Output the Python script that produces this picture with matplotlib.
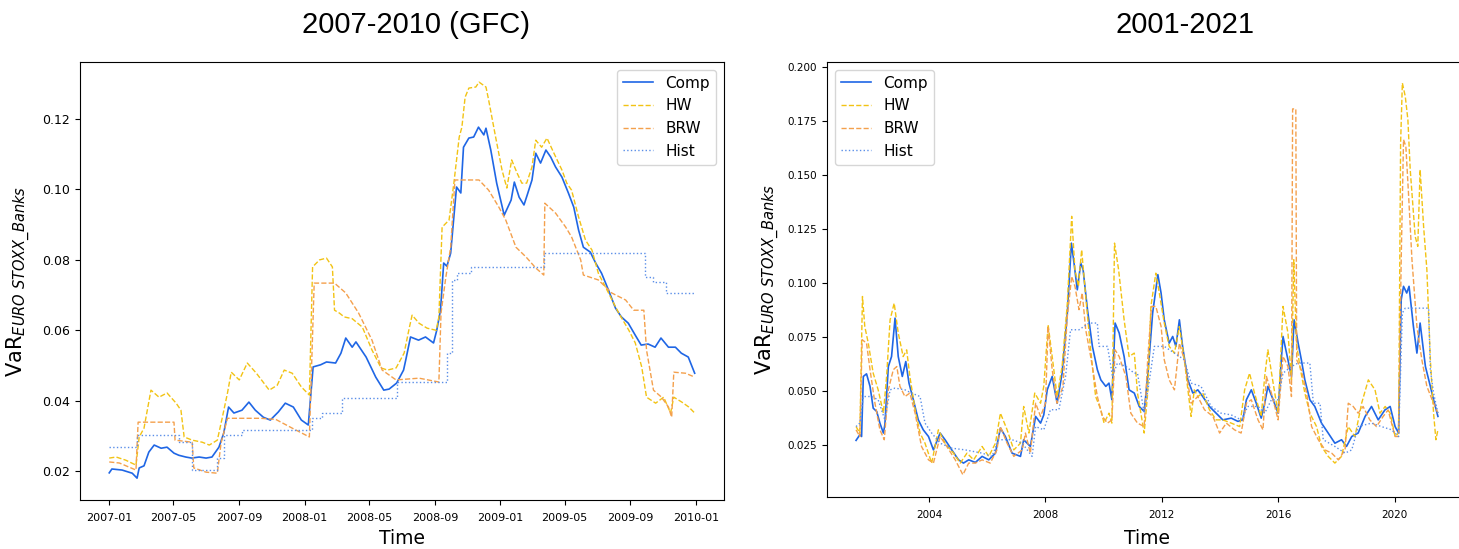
import numpy as np
import pandas as pd
import matplotlib
matplotlib.use("Agg")
import matplotlib.pyplot as plt
import matplotlib.dates as mdates

# ---- 2007-2010 (GFC) panel -------------------------------------------------
comp_gfc_dates = ["2007-01-01", "2007-01-06", "2007-01-25", "2007-02-13", "2007-02-22", "2007-02-26",
                  "2007-03-07", "2007-03-16", "2007-03-26", "2007-04-08", "2007-04-19", "2007-05-02",
                  "2007-05-11", "2007-05-24", "2007-06-04", "2007-06-18", "2007-07-01", "2007-07-12",
                  "2007-07-25", "2007-08-03", "2007-08-12", "2007-08-22", "2007-09-06", "2007-09-19",
                  "2007-10-01", "2007-10-16", "2007-10-29", "2007-11-13", "2007-11-26", "2007-12-11",
                  "2007-12-26", "2008-01-08", "2008-01-17", "2008-01-31", "2008-02-11", "2008-02-28",
                  "2008-03-09", "2008-03-18", "2008-03-30", "2008-04-06", "2008-04-25", "2008-05-13",
                  "2008-05-28", "2008-06-07", "2008-06-21", "2008-07-04", "2008-07-08", "2008-07-17",
                  "2008-08-01", "2008-08-14", "2008-08-29", "2008-09-04", "2008-09-11", "2008-09-17",
                  "2008-09-23", "2008-09-30", "2008-10-06", "2008-10-11", "2008-10-19", "2008-10-24",
                  "2008-11-03", "2008-11-12", "2008-11-21", "2008-12-01", "2008-12-05", "2008-12-14",
                  "2008-12-25", "2009-01-08", "2009-01-21", "2009-01-27", "2009-02-05", "2009-02-14",
                  "2009-02-20", "2009-03-01", "2009-03-08", "2009-03-17", "2009-03-27", "2009-04-05",
                  "2009-04-14", "2009-04-26", "2009-05-08", "2009-05-18", "2009-05-27", "2009-06-05",
                  "2009-06-18", "2009-06-28", "2009-07-09", "2009-07-22", "2009-08-04", "2009-08-15",
                  "2009-08-28", "2009-09-10", "2009-09-21", "2009-10-04", "2009-10-17", "2009-10-28",
                  "2009-11-11", "2009-11-24", "2009-12-05", "2009-12-18", "2009-12-30"]
comp_gfc = [0.0195, 0.0206, 0.0203, 0.0194, 0.0180, 0.0209, 0.0215, 0.0254, 0.0274, 0.0265,
            0.0268, 0.0251, 0.0245, 0.0240, 0.0237, 0.0240, 0.0237, 0.0240, 0.0268, 0.0308,
            0.0382, 0.0365, 0.0373, 0.0396, 0.0373, 0.0353, 0.0345, 0.0368, 0.0393, 0.0382,
            0.0345, 0.0331, 0.0496, 0.0502, 0.0510, 0.0507, 0.0535, 0.0578, 0.0552, 0.0567,
            0.0524, 0.0467, 0.0430, 0.0433, 0.0450, 0.0487, 0.0515, 0.0581, 0.0572, 0.0581,
            0.0564, 0.0600, 0.0657, 0.0791, 0.0782, 0.0819, 0.0922, 0.1007, 0.0990, 0.1120,
            0.1146, 0.1149, 0.1177, 0.1155, 0.1174, 0.1112, 0.1018, 0.0927, 0.0970, 0.1021,
            0.0978, 0.0956, 0.0984, 0.1027, 0.1103, 0.1075, 0.1112, 0.1092, 0.1064, 0.1035,
            0.0990, 0.0950, 0.0885, 0.0836, 0.0822, 0.0791, 0.0762, 0.0714, 0.0663, 0.0638,
            0.0620, 0.0586, 0.0558, 0.0561, 0.0552, 0.0578, 0.0552, 0.0552, 0.0535, 0.0524,
            0.0478]

hw_gfc_dates = ["2007-01-01", "2007-01-14", "2007-02-01", "2007-02-20", "2007-02-26", "2007-03-07",
                "2007-03-20", "2007-04-04", "2007-04-19", "2007-05-06", "2007-05-15", "2007-05-21",
                "2007-06-05", "2007-06-24", "2007-07-07", "2007-07-22", "2007-07-31", "2007-08-10",
                "2007-08-17", "2007-09-01", "2007-09-16", "2007-10-03", "2007-10-27", "2007-11-11",
                "2007-11-24", "2007-12-09", "2007-12-26", "2008-01-10", "2008-01-16", "2008-01-29",
                "2008-02-11", "2008-02-22", "2008-02-26", "2008-03-06", "2008-03-15", "2008-03-30",
                "2008-04-18", "2008-05-06", "2008-05-23", "2008-06-04", "2008-06-20", "2008-07-05",
                "2008-07-15", "2008-07-20", "2008-08-02", "2008-08-17", "2008-09-03", "2008-09-08",
                "2008-09-14", "2008-09-27", "2008-10-06", "2008-10-16", "2008-10-21", "2008-10-27",
                "2008-11-03", "2008-11-16", "2008-11-22", "2008-12-05", "2008-12-10", "2008-12-23",
                "2009-01-04", "2009-01-13", "2009-01-22", "2009-02-01", "2009-02-10", "2009-02-19",
                "2009-03-01", "2009-03-08", "2009-03-19", "2009-03-29", "2009-04-11", "2009-04-26",
                "2009-05-05", "2009-05-14", "2009-05-27", "2009-06-09", "2009-06-21", "2009-07-03",
                "2009-07-22", "2009-08-10", "2009-08-29", "2009-09-10", "2009-09-22", "2009-10-01",
                "2009-10-18", "2009-11-02", "2009-11-15", "2009-11-21", "2009-12-06", "2009-12-19",
                "2009-12-30"]
hw_gfc = [0.0237, 0.0240, 0.0231, 0.0217, 0.0297, 0.0322, 0.0430, 0.0410, 0.0422, 0.0393,
          0.0373, 0.0297, 0.0288, 0.0282, 0.0274, 0.0288, 0.0350, 0.0422, 0.0481, 0.0459,
          0.0507, 0.0478, 0.0430, 0.0444, 0.0487, 0.0478, 0.0439, 0.0416, 0.0780, 0.0800,
          0.0805, 0.0780, 0.0657, 0.0649, 0.0638, 0.0633, 0.0609, 0.0544, 0.0493, 0.0487,
          0.0493, 0.0535, 0.0609, 0.0643, 0.0620, 0.0606, 0.0600, 0.0638, 0.0893, 0.0913,
          0.1018, 0.1149, 0.1177, 0.1262, 0.1288, 0.1291, 0.1305, 0.1291, 0.1254, 0.1149,
          0.1055, 0.1004, 0.1084, 0.1047, 0.1018, 0.1018, 0.1064, 0.1140, 0.1120, 0.1146,
          0.1103, 0.1055, 0.1018, 0.0998, 0.0922, 0.0856, 0.0828, 0.0762, 0.0706, 0.0649,
          0.0600, 0.0564, 0.0496, 0.0410, 0.0393, 0.0410, 0.0365, 0.0410, 0.0396, 0.0382,
          0.0365]

brw_gfc_dates = ["2007-01-01", "2007-01-20", "2007-02-20", "2007-02-24", "2007-05-02", "2007-05-04",
                 "2007-06-05", "2007-06-08", "2007-07-01", "2007-07-22", "2007-07-29", "2007-08-10",
                 "2007-10-11", "2007-11-08", "2007-12-09", "2008-01-10", "2008-01-19", "2008-02-26",
                 "2008-03-18", "2008-04-11", "2008-05-06", "2008-05-25", "2008-06-20", "2008-08-02",
                 "2008-09-08", "2008-09-12", "2008-09-21", "2008-09-30", "2008-10-08", "2008-11-22",
                 "2008-12-10", "2008-12-29", "2009-01-11", "2009-01-30", "2009-02-18", "2009-03-08",
                 "2009-03-23", "2009-03-25", "2009-04-14", "2009-05-03", "2009-05-14", "2009-05-31",
                 "2009-06-05", "2009-07-03", "2009-07-28", "2009-08-23", "2009-09-07", "2009-09-26",
                 "2009-10-01", "2009-10-14", "2009-10-29", "2009-11-11", "2009-11-17", "2009-11-21",
                 "2009-12-13", "2009-12-30"]
brw_gfc = [0.0226, 0.0223, 0.0203, 0.0339, 0.0339, 0.0288, 0.0282, 0.0209, 0.0197, 0.0194,
           0.0280, 0.0350, 0.0350, 0.0347, 0.0322, 0.0297, 0.0734, 0.0734, 0.0706, 0.0649,
           0.0572, 0.0487, 0.0459, 0.0464, 0.0453, 0.0649, 0.0751, 0.0836, 0.1027, 0.1027,
           0.0998, 0.0950, 0.0913, 0.0836, 0.0808, 0.0777, 0.0757, 0.0961, 0.0933, 0.0893,
           0.0865, 0.0800, 0.0757, 0.0743, 0.0706, 0.0686, 0.0657, 0.0657, 0.0544, 0.0430,
           0.0410, 0.0382, 0.0353, 0.0481, 0.0478, 0.0467]

hist_gfc_dates = ["2007-01-01", "2007-02-22", "2007-05-11", "2007-06-05", "2007-07-22", "2007-08-03",
                  "2007-09-06", "2008-01-14", "2008-02-03", "2008-03-11", "2008-06-21", "2008-09-23",
                  "2008-10-02", "2008-10-11", "2008-11-07", "2009-03-23", "2009-09-29", "2009-10-14",
                  "2009-11-06", "2009-12-30"]
hist_gfc = [0.0268, 0.0302, 0.0282, 0.0203, 0.0237, 0.0302, 0.0316, 0.0350, 0.0365, 0.0407,
            0.0452, 0.0535, 0.0743, 0.0762, 0.0780, 0.0819, 0.0751, 0.0737, 0.0706, 0.0706]

# ---- 2001-2021 panel (decimal years) ---------------------------------------
comp_full_years = [2001.49, 2001.62, 2001.68, 2001.74, 2001.85, 2001.97, 2002.08, 2002.20, 2002.31, 2002.43,
                   2002.48, 2002.60, 2002.71, 2002.83, 2002.94, 2003.08, 2003.20, 2003.31, 2003.46, 2003.63,
                   2003.80, 2003.98, 2004.15, 2004.38, 2004.55, 2004.78, 2005.01, 2005.18, 2005.36, 2005.59,
                   2005.82, 2006.05, 2006.28, 2006.45, 2006.62, 2006.85, 2007.14, 2007.25, 2007.48, 2007.66,
                   2007.83, 2007.94, 2008.06, 2008.23, 2008.40, 2008.57, 2008.75, 2008.89, 2008.98, 2009.09,
                   2009.21, 2009.29, 2009.44, 2009.61, 2009.78, 2009.90, 2010.07, 2010.18, 2010.28, 2010.39,
                   2010.53, 2010.70, 2010.87, 2011.05, 2011.22, 2011.39, 2011.51, 2011.68, 2011.86, 2011.97,
                   2012.08, 2012.25, 2012.37, 2012.48, 2012.60, 2012.71, 2012.89, 2013.06, 2013.23, 2013.40,
                   2013.63, 2013.86, 2014.09, 2014.38, 2014.61, 2014.78, 2014.90, 2015.07, 2015.24, 2015.41,
                   2015.53, 2015.64, 2015.82, 2015.99, 2016.10, 2016.16, 2016.33, 2016.45, 2016.54, 2016.68,
                   2016.79, 2016.91, 2017.08, 2017.25, 2017.48, 2017.71, 2017.94, 2018.17, 2018.34, 2018.52,
                   2018.74, 2018.98, 2019.20, 2019.43, 2019.66, 2019.84, 2020.01, 2020.13, 2020.22, 2020.30,
                   2020.41, 2020.49, 2020.64, 2020.76, 2020.87, 2021.05, 2021.22, 2021.33, 2021.48]
comp_full = [0.0272, 0.0298, 0.0290, 0.0568, 0.0580, 0.0522, 0.0421, 0.0406, 0.0352, 0.0306,
             0.0344, 0.0614, 0.0660, 0.0838, 0.0660, 0.0568, 0.0637, 0.0537, 0.0460, 0.0367,
             0.0321, 0.0290, 0.0228, 0.0306, 0.0275, 0.0228, 0.0182, 0.0167, 0.0182, 0.0170,
             0.0198, 0.0182, 0.0213, 0.0329, 0.0290, 0.0213, 0.0198, 0.0275, 0.0244, 0.0383,
             0.0352, 0.0390, 0.0506, 0.0568, 0.0444, 0.0583, 0.0861, 0.1185, 0.1093, 0.0969,
             0.1093, 0.1062, 0.0877, 0.0707, 0.0599, 0.0552, 0.0522, 0.0537, 0.0460, 0.0815,
             0.0769, 0.0660, 0.0506, 0.0491, 0.0429, 0.0406, 0.0568, 0.0861, 0.1039, 0.0954,
             0.0830, 0.0722, 0.0753, 0.0707, 0.0830, 0.0707, 0.0552, 0.0491, 0.0506, 0.0475,
             0.0429, 0.0398, 0.0367, 0.0375, 0.0360, 0.0367, 0.0460, 0.0506, 0.0444, 0.0375,
             0.0444, 0.0522, 0.0460, 0.0398, 0.0645, 0.0753, 0.0645, 0.0568, 0.0830, 0.0722,
             0.0645, 0.0552, 0.0460, 0.0429, 0.0352, 0.0306, 0.0259, 0.0275, 0.0244, 0.0290,
             0.0306, 0.0383, 0.0429, 0.0367, 0.0413, 0.0429, 0.0336, 0.0306, 0.0923, 0.0985,
             0.0954, 0.0985, 0.0799, 0.0676, 0.0815, 0.0614, 0.0522, 0.0460, 0.0383]

hw_full_years = [2001.49, 2001.62, 2001.71, 2001.79, 2001.91, 2002.08, 2002.25, 2002.43, 2002.54, 2002.66,
                 2002.80, 2002.94, 2003.11, 2003.23, 2003.34, 2003.52, 2003.69, 2003.86, 2004.09, 2004.32,
                 2004.55, 2004.84, 2005.07, 2005.30, 2005.53, 2005.82, 2006.05, 2006.28, 2006.45, 2006.68,
                 2006.91, 2007.14, 2007.25, 2007.43, 2007.63, 2007.83, 2007.94, 2008.09, 2008.23, 2008.40,
                 2008.57, 2008.75, 2008.90, 2009.01, 2009.13, 2009.24, 2009.38, 2009.55, 2009.72, 2009.90,
                 2010.01, 2010.18, 2010.28, 2010.37, 2010.51, 2010.70, 2010.87, 2011.05, 2011.16, 2011.39,
                 2011.51, 2011.62, 2011.79, 2011.91, 2012.08, 2012.25, 2012.43, 2012.60, 2012.77, 2013.00,
                 2013.11, 2013.23, 2013.40, 2013.63, 2013.86, 2014.09, 2014.38, 2014.67, 2014.84, 2015.01,
                 2015.18, 2015.41, 2015.53, 2015.64, 2015.82, 2015.99, 2016.16, 2016.33, 2016.45, 2016.53,
                 2016.62, 2016.74, 2016.91, 2017.08, 2017.31, 2017.48, 2017.71, 2017.94, 2018.17, 2018.40,
                 2018.63, 2018.86, 2019.09, 2019.32, 2019.49, 2019.67, 2019.84, 2020.01, 2020.13, 2020.20,
                 2020.26, 2020.36, 2020.45, 2020.53, 2020.70, 2020.79, 2020.87, 2020.99, 2021.10, 2021.22,
                 2021.33, 2021.41, 2021.48]
hw_full = [0.0336, 0.0306, 0.0938, 0.0799, 0.0722, 0.0583, 0.0506, 0.0398, 0.0568, 0.0830,
           0.0907, 0.0769, 0.0660, 0.0691, 0.0568, 0.0414, 0.0306, 0.0259, 0.0167, 0.0321,
           0.0259, 0.0213, 0.0167, 0.0213, 0.0182, 0.0244, 0.0198, 0.0259, 0.0398, 0.0321,
           0.0228, 0.0259, 0.0429, 0.0306, 0.0491, 0.0444, 0.0522, 0.0807, 0.0660, 0.0475,
           0.0614, 0.0907, 0.1309, 0.1062, 0.0985, 0.1154, 0.0938, 0.0691, 0.0475, 0.0414,
           0.0352, 0.0398, 0.0352, 0.1185, 0.1062, 0.0830, 0.0660, 0.0676, 0.0491, 0.0306,
           0.0491, 0.0892, 0.1046, 0.0954, 0.0815, 0.0707, 0.0676, 0.0799, 0.0645, 0.0383,
           0.0506, 0.0475, 0.0491, 0.0414, 0.0367, 0.0367, 0.0352, 0.0336, 0.0506, 0.0583,
           0.0491, 0.0383, 0.0568, 0.0691, 0.0537, 0.0398, 0.0892, 0.0769, 0.0552, 0.1108,
           0.0722, 0.0614, 0.0491, 0.0398, 0.0336, 0.0244, 0.0198, 0.0167, 0.0198, 0.0336,
           0.0290, 0.0444, 0.0552, 0.0506, 0.0398, 0.0429, 0.0398, 0.0290, 0.0306, 0.1648,
           0.1926, 0.1864, 0.1756, 0.1525, 0.1216, 0.1170, 0.1525, 0.1262, 0.1062, 0.0645,
           0.0398, 0.0275, 0.0321]

brw_full_years = [2001.49, 2001.62, 2001.70, 2001.85, 2001.97, 2002.14, 2002.31, 2002.46, 2002.60, 2002.77,
                  2002.89, 2003.00, 2003.17, 2003.34, 2003.52, 2003.74, 2003.98, 2004.15, 2004.38, 2004.61,
                  2004.90, 2005.16, 2005.36, 2005.59, 2005.82, 2006.10, 2006.33, 2006.45, 2006.68, 2006.91,
                  2007.20, 2007.31, 2007.48, 2007.66, 2007.83, 2008.00, 2008.09, 2008.23, 2008.40, 2008.60,
                  2008.75, 2008.90, 2009.01, 2009.15, 2009.26, 2009.38, 2009.55, 2009.78, 2009.95, 2010.13,
                  2010.28, 2010.39, 2010.53, 2010.76, 2010.93, 2011.16, 2011.39, 2011.51, 2011.64, 2011.79,
                  2011.97, 2012.08, 2012.25, 2012.43, 2012.60, 2012.77, 2013.00, 2013.23, 2013.46, 2013.75,
                  2013.98, 2014.21, 2014.49, 2014.72, 2014.90, 2015.07, 2015.30, 2015.47, 2015.59, 2015.76,
                  2015.99, 2016.16, 2016.33, 2016.45, 2016.49, 2016.60, 2016.63, 2016.79, 2016.97, 2017.14,
                  2017.37, 2017.60, 2017.83, 2018.06, 2018.29, 2018.40, 2018.57, 2018.74, 2018.91, 2019.14,
                  2019.37, 2019.60, 2019.77, 2020.01, 2020.13, 2020.22, 2020.30, 2020.38, 2020.47, 2020.59,
                  2020.76, 2020.93, 2021.10, 2021.28, 2021.48]
brw_full = [0.0321, 0.0290, 0.0738, 0.0722, 0.0599, 0.0444, 0.0321, 0.0275, 0.0506, 0.0599,
            0.0614, 0.0522, 0.0475, 0.0491, 0.0398, 0.0244, 0.0182, 0.0167, 0.0290, 0.0244,
            0.0182, 0.0113, 0.0167, 0.0167, 0.0182, 0.0167, 0.0228, 0.0336, 0.0259, 0.0198,
            0.0228, 0.0306, 0.0213, 0.0444, 0.0383, 0.0444, 0.0799, 0.0599, 0.0444, 0.0522,
            0.0846, 0.1031, 0.0985, 0.0877, 0.0954, 0.0784, 0.0660, 0.0475, 0.0383, 0.0352,
            0.0367, 0.0691, 0.0660, 0.0568, 0.0398, 0.0352, 0.0336, 0.0645, 0.0892, 0.0892,
            0.0800, 0.0645, 0.0552, 0.0506, 0.0722, 0.0645, 0.0444, 0.0475, 0.0414, 0.0383,
            0.0306, 0.0352, 0.0321, 0.0306, 0.0444, 0.0460, 0.0367, 0.0321, 0.0568, 0.0491,
            0.0367, 0.0661, 0.0614, 0.0475, 0.1806, 0.1806, 0.0645, 0.0599, 0.0491, 0.0336,
            0.0275, 0.0228, 0.0213, 0.0182, 0.0228, 0.0444, 0.0429, 0.0398, 0.0429, 0.0367,
            0.0336, 0.0383, 0.0413, 0.0290, 0.0290, 0.1108, 0.1664, 0.1633, 0.1417, 0.1108,
            0.0799, 0.0645, 0.0522, 0.0460, 0.0398]

hist_full_years = [2001.49, 2001.62, 2001.74, 2002.02, 2002.25, 2002.48, 2002.66, 2002.83, 2003.17, 2003.40,
                   2003.69, 2003.86, 2004.09, 2004.38, 2004.78, 2005.24, 2005.82, 2006.16, 2006.39, 2006.85,
                   2007.20, 2007.54, 2007.66, 2007.94, 2008.17, 2008.46, 2008.69, 2008.86, 2009.15, 2009.49,
                   2009.78, 2009.84, 2010.13, 2010.30, 2010.47, 2010.76, 2011.05, 2011.16, 2011.39, 2011.57,
                   2011.74, 2012.08, 2012.43, 2012.77, 2013.00, 2013.34, 2013.69, 2014.03, 2014.38, 2014.72,
                   2014.95, 2015.30, 2015.53, 2015.76, 2015.99, 2016.16, 2016.45, 2016.68, 2017.08, 2017.20,
                   2017.43, 2017.54, 2017.94, 2018.29, 2018.52, 2018.74, 2019.20, 2019.54, 2019.89, 2020.13,
                   2020.26, 2020.36, 2021.16, 2021.22, 2021.33, 2021.48]
hist_full = [0.0336, 0.0352, 0.0475, 0.0475, 0.0460, 0.0367, 0.0506, 0.0514, 0.0506, 0.0491,
             0.0475, 0.0352, 0.0306, 0.0259, 0.0236, 0.0228, 0.0213, 0.0198, 0.0275, 0.0275,
             0.0259, 0.0198, 0.0336, 0.0321, 0.0414, 0.0414, 0.0568, 0.0784, 0.0784, 0.0815,
             0.0815, 0.0707, 0.0707, 0.0568, 0.0630, 0.0614, 0.0583, 0.0583, 0.0398, 0.0552,
             0.0707, 0.0707, 0.0676, 0.0645, 0.0537, 0.0522, 0.0429, 0.0398, 0.0390, 0.0367,
             0.0429, 0.0429, 0.0398, 0.0460, 0.0460, 0.0583, 0.0614, 0.0630, 0.0630, 0.0444,
             0.0444, 0.0275, 0.0244, 0.0213, 0.0228, 0.0336, 0.0352, 0.0336, 0.0321, 0.0290,
             0.0861, 0.0884, 0.0884, 0.0599, 0.0491, 0.0398]

C_COMP = "#1f66e5"
C_HW = "#f2c314"
C_BRW = "#f4a04c"
C_HIST = "#5a8ee8"


def to_dates(years):
    # decimal year -> timestamp
    return [pd.Timestamp(int(y), 1, 1) + pd.Timedelta(days=(y - int(y)) * 365.25) for y in years]


fig = plt.figure(figsize=(14.59, 5.49), dpi=100, facecolor="white")
ax1 = fig.add_axes([0.0548, 0.0893, 0.4414, 0.7977])
ax2 = fig.add_axes([0.5668, 0.0947, 0.4387, 0.7923])

# left panel
ax1.plot(pd.to_datetime(comp_gfc_dates), comp_gfc, color=C_COMP, lw=1.2, label="Comp")
ax1.plot(pd.to_datetime(hw_gfc_dates), hw_gfc, color=C_HW, lw=1.0, ls="--", label="HW")
ax1.plot(pd.to_datetime(brw_gfc_dates), brw_gfc, color=C_BRW, lw=1.0, ls="--", label="BRW")
ax1.plot(pd.to_datetime(hist_gfc_dates), hist_gfc, color=C_HIST, lw=1.0, ls=":",
         drawstyle="steps-post", label="Hist")
ax1.set_ylim(0.0118, 0.1362)
ax1.set_yticks([0.02, 0.04, 0.06, 0.08, 0.10, 0.12])
ax1.xaxis.set_major_locator(mdates.MonthLocator(bymonth=(1, 5, 9)))
ax1.xaxis.set_major_formatter(mdates.DateFormatter("%Y-%m"))
ax1.tick_params(axis="x", labelsize=8, pad=6)
ax1.tick_params(axis="y", labelsize=9)
ax1.legend(loc="upper right", fontsize=11)
ax1.set_xlabel("Time", fontsize=13.5, labelpad=4)
ax1.set_ylabel("VaR$_{EURO\\ STOXX\\_Banks}$", fontsize=15, labelpad=7)

# right panel
ax2.plot(to_dates(comp_full_years), comp_full, color=C_COMP, lw=1.2, label="Comp")
ax2.plot(to_dates(hw_full_years), hw_full, color=C_HW, lw=1.0, ls="--", label="HW")
ax2.plot(to_dates(brw_full_years), brw_full, color=C_BRW, lw=1.0, ls="--", label="BRW")
ax2.plot(to_dates(hist_full_years), hist_full, color=C_HIST, lw=1.0, ls=":", label="Hist")
ax2.set_ylim(0.001, 0.2023)
ax2.set_yticks([0.025, 0.05, 0.075, 0.1, 0.125, 0.15, 0.175, 0.2])
ax2.yaxis.set_major_formatter(matplotlib.ticker.FormatStrFormatter("%.3f"))
ax2.xaxis.set_major_locator(mdates.YearLocator(4))
ax2.xaxis.set_major_formatter(mdates.DateFormatter("%Y"))
ax2.tick_params(axis="x", labelsize=7.5, pad=6)
ax2.tick_params(axis="y", labelsize=7.5)
ax2.legend(loc="upper left", fontsize=11)
ax2.set_xlabel("Time", fontsize=13.5, labelpad=6)
ax2.set_ylabel("VaR$_{EURO\\ STOXX\\_Banks}$", fontsize=15)

fig.text(416 / 1459, 1 - 25 / 549, "2007-2010 (GFC)", family="Liberation Sans",
         fontsize=21, ha="center", va="center")
fig.text(1185 / 1459, 1 - 25 / 549, "2001-2021", family="Liberation Sans",
         fontsize=21, ha="center", va="center")

fig.savefig("out.png", dpi=100, facecolor="white")
